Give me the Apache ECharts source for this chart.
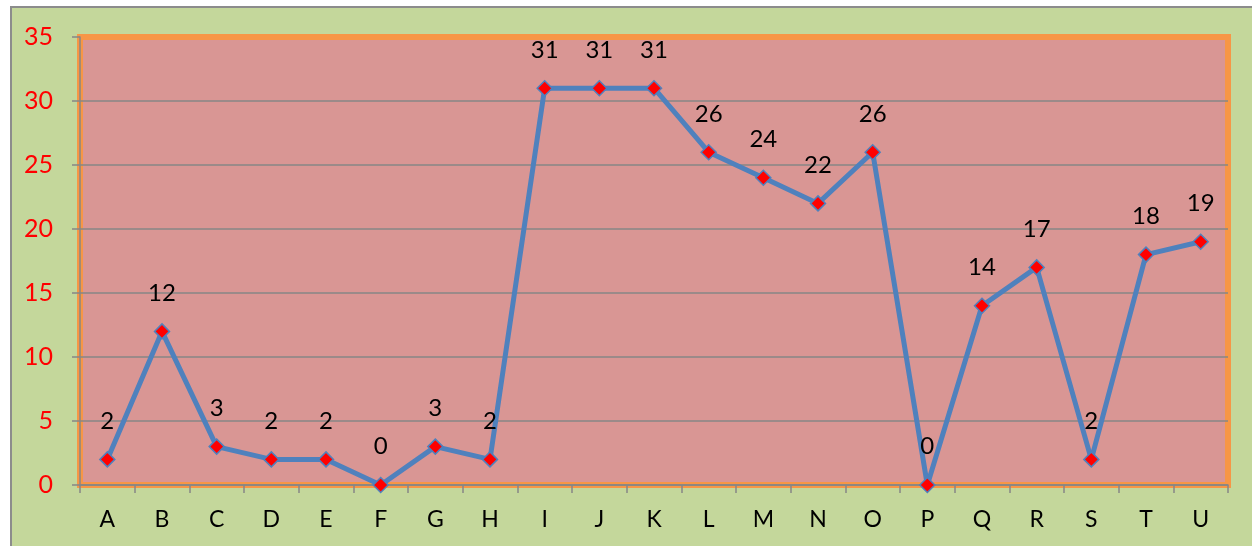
<!DOCTYPE html>
<html><head><meta charset="utf-8">
<script src="https://cdn.jsdelivr.net/npm/echarts@6/dist/echarts.min.js"></script>
<style>html,body{margin:0;padding:0;background:#fff;}#c{width:1252px;height:546px;}</style>
</head><body><div id="c"></div>
<script>
const categories = ['A','B','C','D','E','F','G','H','I','J','K','L','M','N','O','P','Q','R','S','T','U'];
const values = [2,12,3,2,2,0,3,2,31,31,31,26,24,22,26,0,14,17,2,18,19];
const yTicks = {min:0, max:35, interval:5};

const chart = echarts.init(document.getElementById('c'), null, {renderer:'canvas'});
chart.setOption({
  backgroundColor:'#ffffff',
  animation:false,
  graphic:[{type:'rect', z:-10, silent:true, shape:{x:11, y:7, width:1300, height:600},
    style:{fill:'#c4d79b', stroke:'#8c8c8c', lineWidth:2}}],
  grid:{left:80, top:37, right:24, bottom:61, show:true, backgroundColor:'#d99694', borderColor:'#f79646', borderWidth:6},
  xAxis:{type:'category', data:categories, boundaryGap:true,
    axisLine:{show:true, lineStyle:{color:'#868686', width:1.5}},
    axisTick:{show:true, length:8, lineStyle:{color:'#868686', width:1.5}},
    axisLabel:{color:'#000', fontSize:23, fontFamily:'Lato', margin:23}},
  yAxis:{type:'value', min:yTicks.min, max:yTicks.max, interval:yTicks.interval,
    axisLine:{show:true, lineStyle:{color:'#868686', width:1.5}},
    axisTick:{show:true, length:8, lineStyle:{color:'#868686', width:1.5}},
    splitLine:{show:true, showMaxLine:false, lineStyle:{color:'#868686', width:1.5}},
    axisLabel:{color:'#ff0000', fontSize:25, fontFamily:'Lato', margin:27}},
  series:[{type:'line', data:values, symbol:'diamond', symbolSize:15,
    lineStyle:{color:'#4f81bd', width:5},
    itemStyle:{color:'#ff0000', borderColor:'#4f81bd', borderWidth:1.5},
    label:{show:true, position:'top', distance:18, color:'#000', fontSize:24, fontFamily:'Lato'}}]
});
</script></body></html>
